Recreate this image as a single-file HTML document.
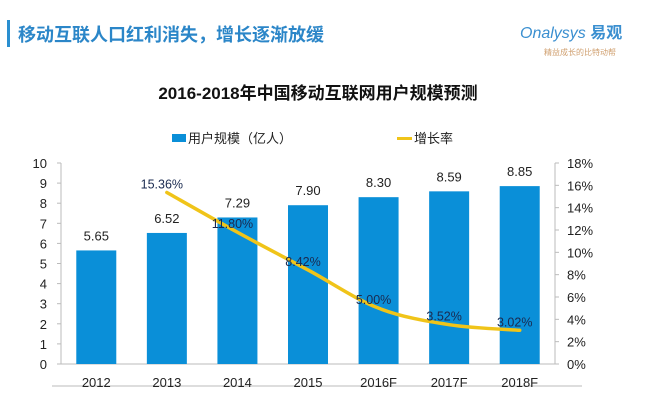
<!DOCTYPE html>
<html><head><meta charset="utf-8"><style>
body{margin:0;width:654px;height:401px;background:#fff;overflow:hidden;font-family:"Liberation Sans","Noto Sans CJK SC",sans-serif;}
svg text{font-family:"Liberation Sans","Noto Sans CJK SC",sans-serif;}
</style></head><body>
<svg id="c" width="654" height="401" xmlns="http://www.w3.org/2000/svg">
<rect x="7" y="20" width="3" height="27" fill="#2a8fd0"/>
<text x="18" y="41" font-size="18" font-weight="bold" fill="#2b86c8">移动互联人口红利消失，增长逐渐放缓</text>
<text x="520" y="38" font-size="16" font-style="italic" fill="#3a8fd0">Onalysys <tspan font-weight="bold" font-style="normal">易观</tspan></text>
<text x="544" y="55" font-size="8" fill="#d0a070">精益成长的比特动帮</text>
<text x="318" y="99" font-size="17" font-weight="bold" text-anchor="middle" fill="#111">2016-2018年中国移动互联网用户规模预测</text>
<rect x="172" y="134" width="14" height="8" fill="#0a8fd8"/>
<text x="188" y="143" font-size="13" fill="#222">用户规模（亿人）</text>
<rect x="397" y="137" width="15" height="3" fill="#f0c419"/>
<text x="414" y="143" font-size="13" fill="#222">增长率</text>
<line x1="52" y1="386" x2="582" y2="386" stroke="#ddd" stroke-width="2"/>
<g id="g"></g>
</svg>
<script>
const categories=["2012","2013","2014","2015","2016F","2017F","2018F"];
const users=[5.65,6.52,7.29,7.90,8.30,8.59,8.85];
const userLabels=["5.65","6.52","7.29","7.90","8.30","8.59","8.85"];
const growth=[null,15.36,11.80,8.42,5.00,3.52,3.02];
const growthLabels=["","15.36%","11.80%","8.42%","5.00%","3.52%","3.02%"];
const leftTicks=[0,1,2,3,4,5,6,7,8,9,10];
const rightTicks=[0,2,4,6,8,10,12,14,16,18];
const NS="http://www.w3.org/2000/svg",g=document.getElementById('g');
const X0=61,X1=555,Y0=364,Y1=163,band=(X1-X0)/categories.length;
const xc=i=>X0+band*(i+0.5),yL=v=>Y0-(v/10)*(Y0-Y1),yR=v=>Y0-(v/18)*(Y0-Y1);
function mk(t,a,txt){const e=document.createElementNS(NS,t);for(const k in a)e.setAttribute(k,a[k]);if(txt!==undefined)e.textContent=txt;g.appendChild(e);return e;}
let e;
e=mk('line',{x1:X0,y1:Y1,x2:X0,y2:Y0,stroke:'#bbb'});


e=mk('line',{x1:X1,y1:Y1,x2:X1,y2:Y0,stroke:'#bbb'});


e=mk('line',{x1:X0,y1:Y0,x2:X1,y2:Y0,stroke:'#bbb'});


leftTicks.forEach(v=>{mk('line',{x1:X0-4,y1:yL(v),x2:X0,y2:yL(v),stroke:'#bbb'});
e=mk('text',{x:47,y:yL(v)+5,'font-size':13,'text-anchor':'end',fill:'#222'},v);

});
rightTicks.forEach(v=>{mk('line',{x1:X1,y1:yR(v),x2:X1+4,y2:yR(v),stroke:'#bbb'});
e=mk('text',{x:567,y:yR(v)+5,'font-size':13,fill:'#222'},v+'%');

});
categories.forEach((c,i)=>{
e=mk('rect',{x:xc(i)-20,y:yL(users[i]),width:40,height:Y0-yL(users[i]),fill:'#0a8fd8'});


e=mk('text',{x:xc(i),y:yL(users[i])-10,'font-size':13,'text-anchor':'middle',fill:'#222'},userLabels[i]);


e=mk('text',{x:xc(i),y:Y0+23,'font-size':13,'text-anchor':'middle',fill:'#222'},c);

});
const pts=[];growth.forEach((v,i)=>{if(v!==null)pts.push([xc(i),yR(v)]);});
let d='M'+pts[0][0]+','+pts[0][1];
for(let i=0;i<pts.length-1;i++){const p0=pts[Math.max(0,i-1)],p1=pts[i],p2=pts[i+1],p3=pts[Math.min(pts.length-1,i+2)];
d+=` C${p1[0]+(p2[0]-p0[0])/6},${p1[1]+(p2[1]-p0[1])/6} ${p2[0]-(p3[0]-p1[0])/6},${p2[1]-(p3[1]-p1[1])/6} ${p2[0]},${p2[1]}`;}
e=mk('path',{d:d,fill:'none',stroke:'#f0c419','stroke-width':3.5,'stroke-linecap':'round'});


growth.forEach((v,i)=>{if(v===null)return;
e=mk('text',{x:xc(i)-5,y:yR(v)-4,'font-size':12.5,'text-anchor':'middle',fill:'#1a2a50'},growthLabels[i]);

});
</script>
</body></html>
